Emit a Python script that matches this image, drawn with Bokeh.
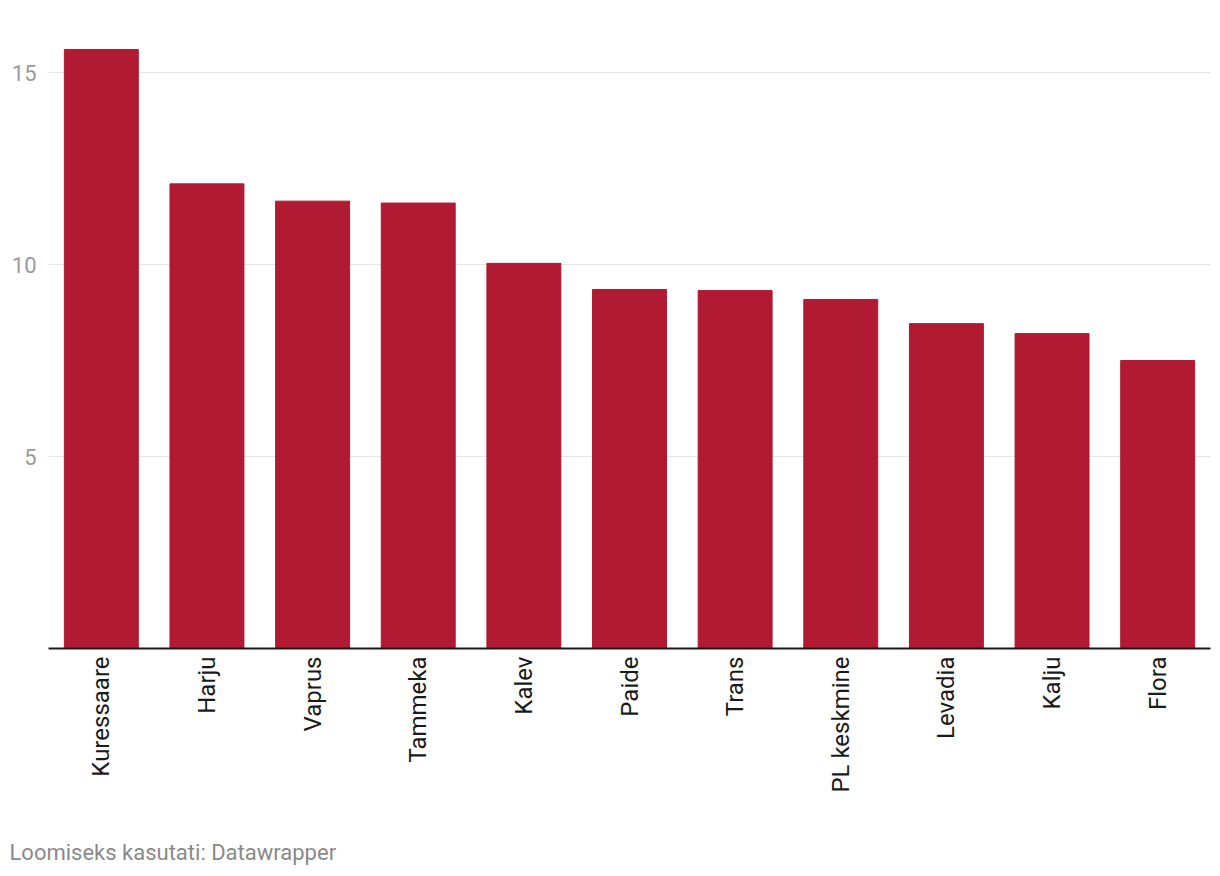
import math
from bokeh.plotting import figure
from bokeh.models import FixedTicker, Range1d, Title, ColumnDataSource
from bokeh.embed import file_html
from bokeh.resources import INLINE

teams = ["Kuressaare", "Harju", "Vaprus", "Tammeka", "Kalev", "Paide", "Trans",
         "PL keskmine", "Levadia", "Kalju", "Flora"]
values = [15.6, 12.1, 11.65, 11.6, 10.03, 9.35, 9.32, 9.09, 8.46, 8.2, 7.5]
y_ticks = [5, 10, 15]
credit = "Loomiseks kasutati: Datawrapper"

src = ColumnDataSource(dict(team=teams, value=values))

p = figure(x_range=teams, y_range=Range1d(0, 16.25), width=1216, height=872,
           output_backend="svg", toolbar_location=None,
           min_border_left=48, min_border_right=6, min_border_top=24,
           min_border_bottom=224)
p.vbar(x="team", top="value", width=0.7, source=src, color="#b01a33")

p.outline_line_color = None
p.background_fill_color = "white"
p.xgrid.grid_line_color = None
p.ygrid.grid_line_color = "#e5e5e5"
p.ygrid.grid_line_width = 1
p.yaxis.ticker = FixedTicker(ticks=y_ticks)
p.yaxis.axis_line_color = None
p.yaxis.major_tick_line_color = None
p.yaxis.minor_tick_line_color = None
p.yaxis.major_label_standoff = 6
p.yaxis.major_label_text_font = "Roboto"
p.yaxis.major_label_text_font_size = "22px"
p.yaxis.major_label_text_color = "#9a9a9a"

p.xaxis.axis_line_color = "#1a1a1a"
p.xaxis.axis_line_width = 2
p.xaxis.major_tick_line_color = None
p.xaxis.minor_tick_line_color = None
p.xaxis.major_label_orientation = math.pi / 2
p.xaxis.major_label_standoff = 2
p.xaxis.major_label_text_font = "Roboto"
p.xaxis.major_label_text_font_size = "24px"
p.xaxis.major_label_text_color = "#1a1a1a"

spacer = Title(text=" ", text_font_size="1px", standoff=38)
p.add_layout(spacer, "below")
t = Title(text=credit, align="left", text_font="Roboto", text_font_size="22px",
          text_font_style="normal", text_color="#8a8a8a", standoff=2, offset=-39)
p.add_layout(t, "below")

open("out.html", "w").write(file_html(p, INLINE))
